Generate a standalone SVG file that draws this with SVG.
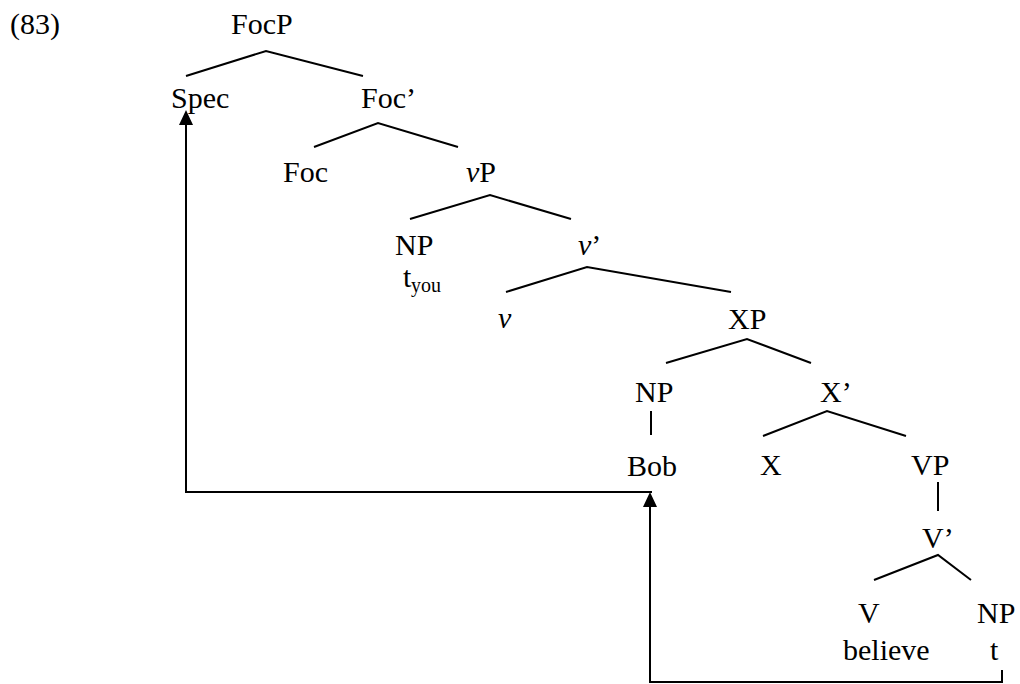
<svg xmlns="http://www.w3.org/2000/svg" width="1020" height="684" viewBox="0 0 1020 684">
<style>
text{font-family:"Liberation Serif","Times New Roman",serif;font-size:30px;fill:#000}
.sub{font-size:20px}
.i{font-style:italic}
.br{stroke:#000;stroke-width:2;fill:none}
.mv{stroke:#000;stroke-width:2;fill:none}
</style>
<defs>
<marker id="ah" markerUnits="userSpaceOnUse" markerWidth="15" markerHeight="14" refX="0" refY="7" orient="auto" viewBox="0 0 15 14">
<path d="M0,0 L15,7 L0,14 z" fill="#000"/>
</marker>
</defs>
<text x="10" y="34">(83)</text>
<g id="FocP"><text x="231" y="34">FocP</text></g>
<g id="Spec"><text x="171" y="108">Spec</text></g>
<g id="FocBar"><text x="361" y="108">Foc’</text></g>
<g id="Foc"><text x="283" y="182">Foc</text></g>
<g id="vP"><text x="466" y="182"><tspan class="i">v</tspan>P</text></g>
<g id="NP1"><text x="395" y="255">NP</text></g>
<g id="tyou"><text x="403" y="287">t</text><text class="sub" x="411" y="292">you</text></g>
<g id="vBar"><text x="578" y="255"><tspan class="i">v</tspan>’</text></g>
<g id="v"><text class="i" x="498" y="328">v</text></g>
<g id="XP"><text x="728" y="329">XP</text></g>
<g id="NP2"><text x="635" y="402">NP</text></g>
<g id="XBar"><text x="820" y="402">X’</text></g>
<g id="Bob"><text x="627" y="476">Bob</text></g>
<g id="X"><text x="760" y="475">X</text></g>
<g id="VP"><text x="911" y="475">VP</text></g>
<g id="VBar"><text x="922" y="548">V’</text></g>
<g id="V"><text x="858" y="623">V</text><text x="843" y="660">believe</text></g>
<g id="NP3"><text x="977" y="623">NP</text><text x="990" y="660">t</text></g>
<g id="connectors">
<polyline class="br" points="186,76 266,51 363,76"/>
<polyline class="br" points="314,147 378,123 458,147"/>
<polyline class="br" points="410,219 490,195 571,219"/>
<polyline class="br" points="506,292 587,267 731,292"/>
<polyline class="br" points="666,363 747,339 811,363"/>
<polyline class="br" points="763,436 827,411 906,436"/>
<polyline class="br" points="874,580 938,555 971,580"/>
<line class="br" x1="651" y1="411" x2="651" y2="435"/>
<line class="br" x1="938" y1="482" x2="938" y2="511"/>
<path class="mv" d="M1002,670 V682 H650 V507" marker-end="url(#ah)"/>
<path class="mv" d="M652,492 H186 V125" marker-end="url(#ah)"/>
</g>
</svg>
